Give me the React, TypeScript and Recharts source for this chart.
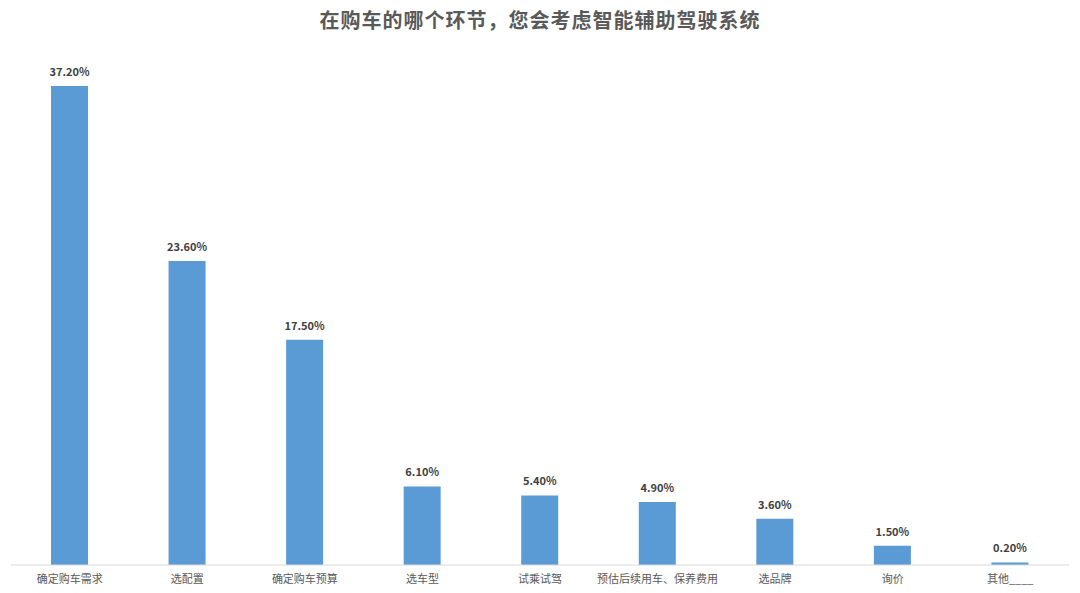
import { Bar, BarChart, LabelList, XAxis, YAxis } from 'recharts';

const stages = [
  '确定购车需求',
  '选配置',
  '确定购车预算',
  '选车型',
  '试乘试驾',
  '预估后续用车、保养费用',
  '选品牌',
  '询价',
  '其他____',
];

const shares = [37.2, 23.6, 17.5, 6.1, 5.4, 4.9, 3.6, 1.5, 0.2];

const data = stages.map((stage, i) => ({ stage, share: shares[i] }));

const FONT = '"Noto Sans CJK SC", "Noto Sans", sans-serif';

export default function App() {
  return (
    <div style={{ position: 'relative', width: 1080, height: 593, background: '#fff', fontFamily: FONT }}>
      <style>{'body{margin:0}'}</style>
      <div
        style={{
          position: 'absolute',
          top: 5,
          left: 0,
          width: 1080,
          textAlign: 'center',
          fontSize: 20,
          letterSpacing: 1,
          fontWeight: 700,
          color: '#595959',
        }}
      >
        在购车的哪个环节，您会考虑智能辅助驾驶系统
      </div>
      <BarChart width={1080} height={593} data={data} margin={{ top: 86, right: 11, left: 11, bottom: 0 }} barSize={37}>
        <XAxis
          dataKey="stage"
          interval={0}
          height={28}
          tickLine={false}
          axisLine={{ stroke: '#d9d9d9' }}
          tick={{ fontSize: 11, fill: '#595959', fontFamily: FONT }}
          tickMargin={4}
        />
        <YAxis hide domain={[0, 37.2]} />
        <Bar dataKey="share" fill="#5b9bd5" isAnimationActive={false}>
          <LabelList
            dataKey="share"
            position="top"
            offset={10}
            formatter={(v: number) => `${v.toFixed(2)}%`}
            style={{ fontSize: 11, fontWeight: 700, fill: '#404040', fontFamily: FONT }}
          />
        </Bar>
      </BarChart>
    </div>
  );
}
